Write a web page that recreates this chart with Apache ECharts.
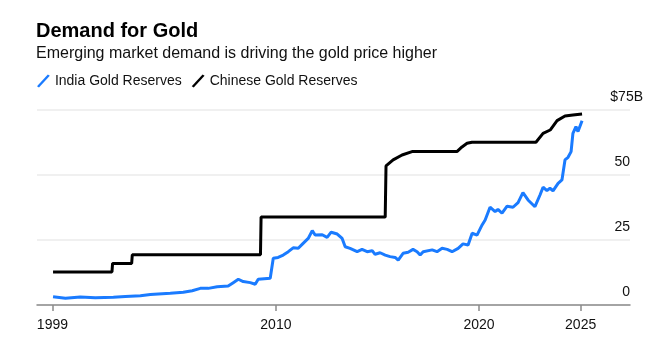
<!DOCTYPE html>
<html>
<head>
<meta charset="utf-8">
<script src="https://cdn.jsdelivr.net/npm/echarts@6/dist/echarts.min.js"></script>
<style>
html, body { margin: 0; padding: 0; background: #fff; }
#goldChart { width: 664px; height: 350px; }
</style>
</head>
<body>
<div id="goldChart"></div>
<script>
// India gold reserves, $B (decimal year)
var indiaYears = [1999.03, 1999.64, 2000.37, 2001.11, 2002.00, 2002.59, 2003.33, 2003.82, 2004.80, 2005.44,
    2005.88, 2006.28, 2006.67, 2007.11, 2007.65, 2007.90, 2008.15, 2008.39, 2008.74, 2008.98,
    2009.13, 2009.72, 2009.87, 2010.11, 2010.36, 2010.61, 2010.85, 2011.10, 2011.34, 2011.59,
    2011.79, 2011.93, 2012.28, 2012.52, 2012.72, 2013.02, 2013.26, 2013.41, 2013.65, 2014.00,
    2014.24, 2014.49, 2014.74, 2014.88, 2015.13, 2015.38, 2015.62, 2015.87, 2016.02, 2016.26,
    2016.51, 2016.75, 2016.95, 2017.10, 2017.25, 2017.69, 2017.93, 2018.18, 2018.43, 2018.67,
    2018.97, 2019.21, 2019.46, 2019.66, 2019.90, 2020.15, 2020.30, 2020.54, 2020.79, 2020.93,
    2021.13, 2021.38, 2021.67, 2021.92, 2022.16, 2022.41, 2022.75, 2023.00, 2023.15, 2023.34,
    2023.49, 2023.64, 2023.89, 2024.08, 2024.23, 2024.38, 2024.53, 2024.62, 2024.77, 2024.87,
    2025.07];
var indiaValues = [3.2, 2.6, 3.1, 2.8, 3.0, 3.3, 3.6, 4.0, 4.5, 4.9,
    5.5, 6.4, 6.4, 7.0, 7.3, 8.6, 9.9, 9.0, 8.6, 8.0,
    9.9, 10.3, 18.0, 18.3, 19.2, 20.5, 22.0, 21.8, 23.7, 25.6,
    28.6, 26.9, 27.0, 26.0, 28.0, 27.3, 25.6, 22.4, 21.8, 20.5,
    21.4, 20.5, 20.9, 19.5, 20.1, 19.2, 18.6, 18.3, 17.3, 19.9,
    20.3, 21.4, 20.5, 19.2, 20.5, 21.2, 20.5, 21.8, 21.4, 20.5,
    21.8, 23.5, 23.1, 27.6, 26.9, 30.8, 32.7, 37.6, 35.9, 36.8,
    35.3, 38.0, 37.6, 39.4, 43.2, 40.4, 37.8, 42.3, 45.3, 44.0,
    44.9, 43.9, 46.8, 48.1, 55.8, 56.8, 59.0, 66.0, 68.6, 66.7,
    70.9];

// Chinese gold reserves, $B
var chinaYears = [1999.03, 2001.93, 2001.96, 2002.90, 2002.93, 2009.24, 2009.27, 2015.38, 2015.42, 2015.77,
    2016.21, 2016.70, 2018.91, 2019.16, 2019.41, 2019.65, 2022.80, 2023.15, 2023.50, 2023.84,
    2024.23, 2024.62, 2025.07];
var chinaValues = [12.7, 12.7, 16.0, 16.0, 19.3, 19.3, 33.8, 33.8, 53.5, 55.8,
    57.7, 59.0, 59.0, 60.8, 62.2, 62.6, 62.6, 66.0, 67.3, 70.9,
    72.7, 73.1, 73.5];

var xTicks = [1999, 2010, 2020, 2025];

function pairs(xs, ys) {
    return xs.map(function (x, i) { return [x, ys[i]]; });
}

var fontName = 'Liberation Sans, Arial, Helvetica, sans-serif';
var slashIcon = 'path://M0,12 L11,0 L13,1.2 L2,13.2 Z';

var goldChart = echarts.init(document.getElementById('goldChart'));
goldChart.setOption({
    animation: false,
    color: ['#1a7bff', '#000000'],
    title: [
        {
            text: 'Demand for Gold',
            left: 31,
            top: 16,
            textStyle: { fontFamily: fontName, fontSize: 20, fontWeight: 'bold', color: '#000' }
        },
        {
            text: 'Emerging market demand is driving the gold price higher',
            left: 31,
            top: 41,
            textStyle: { fontFamily: fontName, fontSize: 16, fontWeight: 'normal', color: '#111' }
        }
    ],
    legend: {
        left: 32,
        top: 69,
        itemWidth: 13,
        itemHeight: 13,
        itemGap: 10,
        icon: slashIcon,
        data: ['India Gold Reserves', 'Chinese Gold Reserves'],
        textStyle: { fontFamily: fontName, fontSize: 14, color: '#111' }
    },
    grid: {
        left: 37,
        right: 34,
        top: 110,
        bottom: 45
    },
    xAxis: {
        type: 'value',
        min: 1998.24,
        max: 2027.43,
        splitLine: { show: false },
        axisLine: { lineStyle: { color: '#8a8a8a', width: 1.5 } },
        axisTick: {
            customValues: xTicks,
            length: 6,
            lineStyle: { color: '#8a8a8a', width: 1.5 }
        },
        axisLabel: {
            customValues: xTicks,
            margin: 13,
            fontFamily: fontName,
            fontSize: 14,
            color: '#111',
            formatter: function (v) { return String(v); }
        }
    },
    yAxis: {
        type: 'value',
        position: 'right',
        min: 0,
        max: 75,
        interval: 25,
        axisLine: { show: false },
        axisTick: { show: false },
        splitLine: { lineStyle: { color: '#ebebeb', width: 1.5 } },
        axisLabel: {
            margin: 13,
            align: 'right',
            verticalAlign: 'bottom',
            padding: [0, 0, 6, 0],
            fontFamily: fontName,
            fontSize: 14,
            color: '#111',
            formatter: function (v) {
                if (v === 75) return '$75B';
                return '{n|' + v + '}';
            },
            rich: {
                n: { fontFamily: fontName, fontSize: 14, color: '#111', padding: [0, 13, 0, 0] }
            }
        }
    },
    series: [
        {
            name: 'India Gold Reserves',
            type: 'line',
            showSymbol: false,
            smooth: false,
            lineStyle: { width: 3, color: '#1a7bff' },
            data: pairs(indiaYears, indiaValues)
        },
        {
            name: 'Chinese Gold Reserves',
            type: 'line',
            showSymbol: false,
            smooth: false,
            lineStyle: { width: 3, color: '#000000' },
            data: pairs(chinaYears, chinaValues)
        }
    ]
});
</script>
</body>
</html>
